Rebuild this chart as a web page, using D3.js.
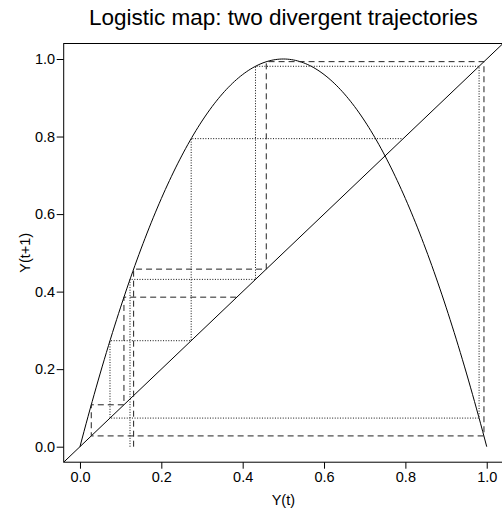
<!DOCTYPE html>
<html>
<head>
<meta charset="utf-8">
<script src="https://cdn.jsdelivr.net/npm/d3@7"></script>
<style>
  html, body { margin: 0; padding: 0; background: #fff; }
  svg { display: block; font-family: "Liberation Sans", Arial, sans-serif; }
</style>
</head>
<body>
<script>
// Logistic map growth rate
const rate = 4;

// Two trajectories started from nearby values (Y(0), Y(1), ... Y(5))
const dottedTrajectory = [0.123, 0.4315, 0.9812, 0.0738, 0.2734, 0.7946];
const dashedTrajectory = [0.1319, 0.458, 0.9932, 0.0278, 0.1081, 0.3857];

// Axis ticks
const xTicks = [0, 0.2, 0.4, 0.6, 0.8, 1.0];
const yTicks = [0, 0.2, 0.4, 0.6, 0.8, 1.0];

const titleText = "Logistic map: two divergent trajectories";
const xLabel = "Y(t)";
const yLabel = "Y(t+1)";

const W = 502, H = 513;
const svg = d3.select("body").append("svg").attr("width", W).attr("height", H);

// Plot region with 4% padding around [0, 1]
const x = d3.scaleLinear().domain([-0.04, 1.04]).range([63.7, 503.0]);
const y = d3.scaleLinear().domain([-0.04, 1.04]).range([462.2, 43.5]);

const plot = svg.append("g");
svg.append("defs").append("clipPath").attr("id", "clip")
  .append("rect").attr("x", x(-0.04)).attr("y", y(1.04))
  .attr("width", x(1.04) - x(-0.04)).attr("height", y(-0.04) - y(1.04));

const inner = plot.append("g").attr("clip-path", "url(#clip)");

// Map curve Y(t+1) = r Y(t) (1 - Y(t))
const curvePts = d3.range(0, 1.0001, 0.005).map(v => [v, rate * v * (1 - v)]);
const line = d3.line().x(d => x(d[0])).y(d => y(d[1]));
inner.append("path").datum(curvePts).attr("d", line)
  .attr("fill", "none").attr("stroke", "#000").attr("stroke-width", 1);

// Identity line across the whole region
inner.append("path").datum([[-0.04, -0.04], [1.04, 1.04]]).attr("d", line)
  .attr("fill", "none").attr("stroke", "#000").attr("stroke-width", 1);

// Cobweb path: up from the axis, then alternate to the curve and the diagonal
function cobweb(traj) {
  const pts = [[traj[0], 0]];
  for (let i = 0; i < traj.length - 1; i++) {
    pts.push([traj[i], traj[i + 1]]);
    pts.push([traj[i + 1], traj[i + 1]]);
  }
  return pts;
}

inner.append("path").datum(cobweb(dottedTrajectory)).attr("d", line)
  .attr("fill", "none").attr("stroke", "#111").attr("stroke-width", 1)
  .attr("stroke-dasharray", "1,1.6");

inner.append("path").datum(cobweb(dashedTrajectory)).attr("d", line)
  .attr("fill", "none").attr("stroke", "#222").attr("stroke-width", 1)
  .attr("stroke-dasharray", "6,4");

// Box
plot.append("rect").attr("x", x(-0.04)).attr("y", y(1.04))
  .attr("width", x(1.04) - x(-0.04)).attr("height", y(-0.04) - y(1.04))
  .attr("fill", "none").attr("stroke", "#000").attr("stroke-width", 1);

// Axes
const fmt = d3.format(".1f");
const xAxis = d3.axisBottom(x).tickValues(xTicks).tickFormat(fmt).tickSize(6.5).tickPadding(3.5);
const gx = svg.append("g").attr("transform", `translate(0,${y(-0.04)})`).call(xAxis);
gx.select(".domain").remove();
gx.selectAll("text").attr("font-size", 14.5).attr("fill", "#000")
  .attr("font-family", "Liberation Sans, Arial, sans-serif");
gx.selectAll("line").attr("stroke", "#000");

const yAxis = d3.axisLeft(y).tickValues(yTicks).tickFormat(fmt).tickSize(7).tickPadding(1.5);
const gy = svg.append("g").attr("transform", `translate(${x(-0.04)},0)`).call(yAxis);
gy.select(".domain").remove();
gy.selectAll("text").attr("font-size", 14.5).attr("fill", "#000")
  .attr("font-family", "Liberation Sans, Arial, sans-serif");
gy.selectAll("line").attr("stroke", "#000");

// Labels and title
const cx = (x(-0.04) + x(1.04)) / 2;
const cy = (y(-0.04) + y(1.04)) / 2;
svg.append("text").attr("x", cx).attr("y", 505).attr("text-anchor", "middle")
  .attr("font-size", 14.5).text(xLabel);
svg.append("text").attr("transform", `translate(30,${cy}) rotate(-90)`)
  .attr("text-anchor", "middle").attr("font-size", 14.5).text(yLabel);
svg.append("text").attr("x", cx).attr("y", 25).attr("text-anchor", "middle")
  .attr("font-size", 22.5).text(titleText);
</script>
</body>
</html>
